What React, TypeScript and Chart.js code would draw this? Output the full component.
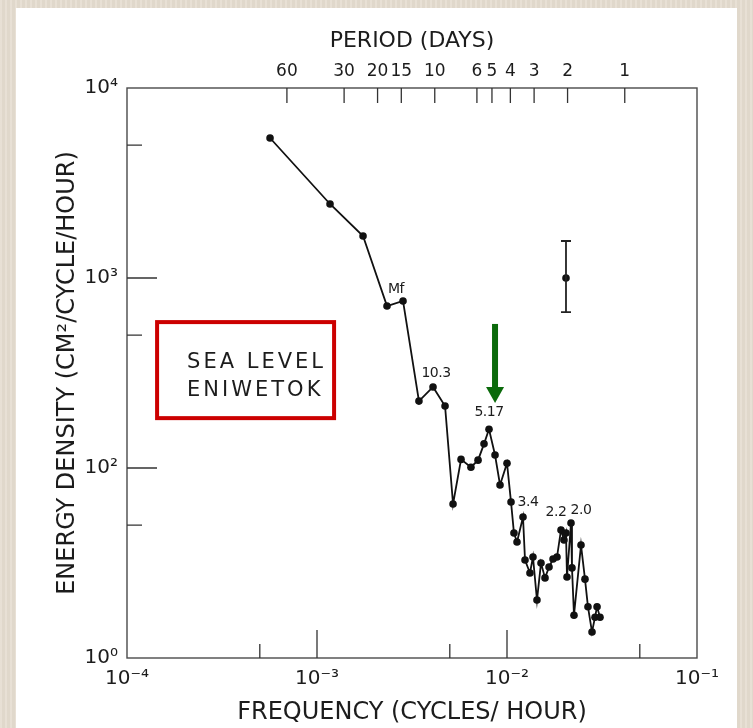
import React, { useEffect, useRef } from "react";
import { Chart, registerables } from "chart.js";

Chart.register(...registerables);

// ---- data (frequency in cycles/hour, energy density) ----
const frequency = [
  5.66e-4, 1.171e-3, 1.747e-3, 2.336e-3, 2.836e-3, 3.44e-3, 4.08e-3, 4.72e-3, 5.2e-3, 5.73e-3,
  6.46e-3, 7.04e-3, 7.57e-3, 8.04e-3, 8.65e-3, 9.19e-3, 1.0e-2, 1.05e-2, 1.088e-2, 1.129e-2,
  1.214e-2, 1.244e-2, 1.321e-2, 1.37e-2, 1.438e-2, 1.51e-2, 1.585e-2, 1.664e-2, 1.747e-2, 1.833e-2,
  1.924e-2, 1.995e-2, 2.044e-2, 2.069e-2, 2.172e-2, 2.198e-2, 2.252e-2, 2.452e-2, 2.573e-2, 2.668e-2,
  2.802e-2, 2.906e-2, 2.978e-2, 3.087e-2,
];
const energy = [
  5456, 2452, 1663, 712, 757, 225, 267, 212, 64.7, 111,
  101, 110, 134, 160, 117, 81.4, 106, 66.2, 45.5, 40.8,
  55.2, 32.8, 28.0, 34.0, 20.2, 31.6, 26.4, 30.1, 33.2, 34.0,
  47.2, 41.8, 45.5, 26.7, 51.3, 29.8, 16.8, 39.3, 26.0, 18.6,
  13.7, 16.4, 18.6, 16.4,
];

// error bar (confidence interval)
const errFreq = [2.044e-2];
const errMid = [1000];
const errLow = [662];
const errHigh = [1566];

// peak labels
const peakText = ["Mf", "10.3", "5.17", "3.4", "2.2", "2.0"];
const peakIndex = [4, 6, 13, 20, 30, 34];
const peakDx = [-7, 3, 0, 5, -5, 10];
const peakDy = [-12, -14, -17, -15, -18, -13];

// axes
const xTickValues = [1e-4, 1e-3, 1e-2, 1e-1];
const xTickLabels = ["10⁻⁴", "10⁻³", "10⁻²", "10⁻¹"];
const xMajorInner = [1e-3, 1e-2];
const xMinorInner = [5e-4, 5e-3, 5e-2];
const yTickValues = [10, 100, 1000, 10000];
const yTickLabels = ["10⁰", "10²", "10³", "10⁴"];
const yMajorInner = [100, 1000];
const yMinorInner = [50, 500, 5000];
const periodDays = [60, 30, 20, 15, 10, 6, 5, 4, 3, 2, 1];

// annotations (data coordinates)
const boxFreq = [1.44e-4, 1.23e-3];
const boxEnergy = [586, 183];
const boxLines = ["SEA LEVEL", "ENIWETOK"];
const arrowFreq = 8.65e-3;
const arrowTopEnergy = 573;
const arrowTipEnergy = 220;

const FONT = "'DejaVu Sans', 'Liberation Sans', sans-serif";
const INK = "#1c1c1c";

const decorPlugin = {
  id: "decor",
  beforeDatasetsDraw(chart: any) {
    const { ctx, chartArea: a } = chart;
    ctx.save();
    ctx.strokeStyle = "#4a4a4a";
    ctx.lineWidth = 1.4;
    ctx.strokeRect(a.left, a.top, a.right - a.left, a.bottom - a.top);
    ctx.restore();
  },
  afterDatasetsDraw(chart: any) {
    const { ctx, chartArea: a, scales } = chart;
    const xs = scales.x;
    const ys = scales.y;
    ctx.save();

    // inward ticks
    ctx.strokeStyle = "#333";
    ctx.lineWidth = 1.3;
    ctx.beginPath();
    yMajorInner.forEach((v) => {
      const y = ys.getPixelForValue(v);
      ctx.moveTo(a.left, y);
      ctx.lineTo(a.left + 30, y);
    });
    yMinorInner.forEach((v) => {
      const y = ys.getPixelForValue(v);
      ctx.moveTo(a.left, y);
      ctx.lineTo(a.left + 15, y);
    });
    xMajorInner.forEach((v) => {
      const x = xs.getPixelForValue(v);
      ctx.moveTo(x, a.bottom);
      ctx.lineTo(x, a.bottom - 28);
    });
    xMinorInner.forEach((v) => {
      const x = xs.getPixelForValue(v);
      ctx.moveTo(x, a.bottom);
      ctx.lineTo(x, a.bottom - 14);
    });
    periodDays.forEach((p) => {
      const x = xs.getPixelForValue(1 / (24 * p));
      ctx.moveTo(x, a.top);
      ctx.lineTo(x, a.top + 15);
    });
    ctx.stroke();

    // error bar
    ctx.strokeStyle = "#222";
    ctx.lineWidth = 1.8;
    ctx.beginPath();
    errFreq.forEach((f, i) => {
      const x = xs.getPixelForValue(f);
      const yl = ys.getPixelForValue(errLow[i]);
      const yh = ys.getPixelForValue(errHigh[i]);
      ctx.moveTo(x, yl);
      ctx.lineTo(x, yh);
      ctx.moveTo(x - 5, yl);
      ctx.lineTo(x + 5, yl);
      ctx.moveTo(x - 5, yh);
      ctx.lineTo(x + 5, yh);
    });
    ctx.stroke();

    // peak labels
    ctx.fillStyle = INK;
    ctx.font = `14px ${FONT}`;
    ctx.textAlign = "center";
    ctx.textBaseline = "middle";
    (ctx as any).letterSpacing = "-0.5px";
    peakText.forEach((t, k) => {
      const i = peakIndex[k];
      const x = xs.getPixelForValue(frequency[i]) + peakDx[k];
      const y = ys.getPixelForValue(energy[i]) + peakDy[k];
      ctx.fillText(t, x, y);
    });

    // red box
    const bx0 = xs.getPixelForValue(boxFreq[0]);
    const bx1 = xs.getPixelForValue(boxFreq[1]);
    const by0 = ys.getPixelForValue(boxEnergy[0]);
    const by1 = ys.getPixelForValue(boxEnergy[1]);
    ctx.strokeStyle = "#cc0000";
    ctx.lineWidth = 4;
    ctx.strokeRect(bx0, by0, bx1 - bx0, by1 - by0);
    ctx.fillStyle = INK;
    ctx.font = `21px ${FONT}`;
    (ctx as any).letterSpacing = "3px";
    ctx.textAlign = "left";
    ctx.textBaseline = "alphabetic";
    boxLines.forEach((t, i) => {
      ctx.fillText(t, bx0 + 30, by0 + 46 + i * 28);
    });
    (ctx as any).letterSpacing = "0px";

    // green arrow
    const ax = xs.getPixelForValue(arrowFreq);
    const aTop = ys.getPixelForValue(arrowTopEnergy);
    const aTip = ys.getPixelForValue(arrowTipEnergy);
    ctx.fillStyle = "#0b6a0b";
    ctx.fillRect(ax - 3, aTop, 6, aTip - aTop - 15);
    ctx.beginPath();
    ctx.moveTo(ax - 9, aTip - 16);
    ctx.lineTo(ax + 9, aTip - 16);
    ctx.lineTo(ax, aTip);
    ctx.closePath();
    ctx.fill();

    ctx.restore();
  },
};

export default function App() {
  const ref = useRef<HTMLCanvasElement>(null);

  useEffect(() => {
    const canvas = ref.current;
    if (!canvas) return;
    const chart = new Chart(canvas, {
      type: "scatter",
      data: {
        datasets: [
          {
            data: frequency.map((f, i) => ({ x: f, y: energy[i] })),
            showLine: true,
            borderColor: "#111",
            borderWidth: 1.8,
            pointRadius: 3.8,
            pointBackgroundColor: "#111",
            pointBorderWidth: 0,
            xAxisID: "x",
            yAxisID: "y",
          },
          {
            data: errFreq.map((f, i) => ({ x: f, y: errMid[i] })),
            showLine: false,
            pointRadius: 3.8,
            pointBackgroundColor: "#111",
            pointBorderWidth: 0,
            xAxisID: "x",
            yAxisID: "y",
          },
        ],
      },
      options: {
        responsive: false,
        animation: false,
        events: [],
        layout: { padding: { left: 0, right: 56, top: 0, bottom: 0 } },
        plugins: { legend: { display: false }, tooltip: { enabled: false } },
        scales: {
          x: {
            type: "logarithmic",
            position: "bottom",
            min: 1e-4,
            max: 1e-1,
            afterBuildTicks: (s: any) => {
              s.ticks = xTickValues.map((v) => ({ value: v }));
            },
            afterFit: (s: any) => {
              s.height = 70;
            },
            grid: { display: false, drawTicks: false },
            border: { display: false },
            ticks: {
              autoSkip: false,
              maxRotation: 0,
              padding: 9,
              color: INK,
              font: { family: FONT, size: 20 },
              callback: (_v: any, i: number) => xTickLabels[i],
            },
            title: {
              display: true,
              text: "FREQUENCY (CYCLES/ HOUR)",
              color: INK,
              font: { family: FONT, size: 24 },
              padding: { top: 0, bottom: 1 },
            },
          },
          x2: {
            type: "logarithmic",
            position: "top",
            min: 1e-4,
            max: 1e-1,
            afterBuildTicks: (s: any) => {
              s.ticks = periodDays.map((p) => ({ value: 1 / (24 * p) }));
            },
            afterFit: (s: any) => {
              s.height = 88;
            },
            grid: { display: false, drawTicks: false },
            border: { display: false },
            ticks: {
              autoSkip: false,
              maxRotation: 0,
              padding: 6,
              color: INK,
              font: { family: FONT, size: 17 },
              callback: (_v: any, i: number) => String(periodDays[i]),
            },
            title: {
              display: true,
              text: "PERIOD (DAYS)",
              color: INK,
              font: { family: FONT, size: 22 },
              padding: { top: 28, bottom: 0 },
            },
          },
          y: {
            type: "logarithmic",
            position: "left",
            min: 10,
            max: 10000,
            afterBuildTicks: (s: any) => {
              s.ticks = yTickValues.map((v) => ({ value: v }));
            },
            afterFit: (s: any) => {
              s.width = 127;
            },
            grid: { display: false, drawTicks: false },
            border: { display: false },
            ticks: {
              autoSkip: false,
              padding: 9,
              color: INK,
              font: { family: FONT, size: 20 },
              callback: (_v: any, i: number) => yTickLabels[i],
            },
            title: {
              display: true,
              text: "ENERGY DENSITY (CM²/CYCLE/HOUR)",
              color: INK,
              font: { family: FONT, size: 24 },
              padding: { top: 53, bottom: 0 },
            },
          },
        },
      } as any,
      plugins: [decorPlugin],
    });
    return () => chart.destroy();
  }, []);

  return (
    <div
      style={{
        position: "fixed",
        left: 0,
        top: 0,
        width: 753,
        height: 728,
        overflow: "hidden",
        background:
          "repeating-linear-gradient(90deg, rgba(255,255,255,0.10) 0px, rgba(255,255,255,0.10) 2px, rgba(0,0,0,0.025) 2px, rgba(0,0,0,0.025) 5px), #e5ddd0",
      }}
    >
      <div
        style={{
          position: "absolute",
          left: 16,
          top: 8,
          width: 721,
          height: 720,
          background: "#ffffff",
        }}
      />
      <canvas
        ref={ref}
        width={753}
        height={728}
        style={{ position: "absolute", left: 0, top: 0, width: 753, height: 728 }}
      />
    </div>
  );
}
